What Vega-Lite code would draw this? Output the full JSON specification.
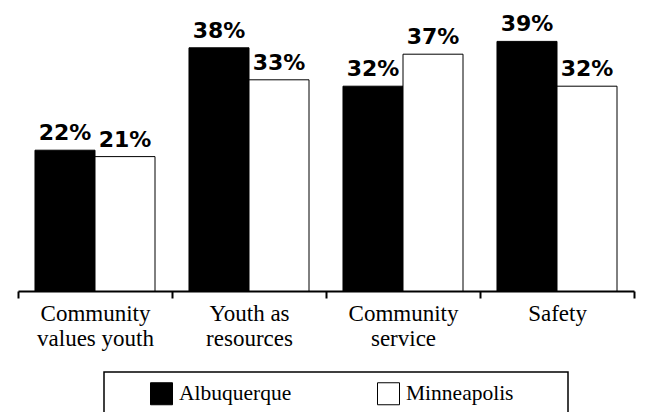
{
  "$schema": "https://vega.github.io/schema/vega-lite/v6.json",
  "autosize": {"type": "none"},
  "width": 616,
  "height": 256,
  "padding": {"left": 18, "top": 35, "right": 11, "bottom": 121},
  "background": "white",
  "data": {
    "values": [
      {"category": "Community values youth", "city": "Albuquerque", "value": 0.22},
      {"category": "Community values youth", "city": "Minneapolis", "value": 0.21},
      {"category": "Youth as resources", "city": "Albuquerque", "value": 0.38},
      {"category": "Youth as resources", "city": "Minneapolis", "value": 0.33},
      {"category": "Community service", "city": "Albuquerque", "value": 0.32},
      {"category": "Community service", "city": "Minneapolis", "value": 0.37},
      {"category": "Safety", "city": "Albuquerque", "value": 0.39},
      {"category": "Safety", "city": "Minneapolis", "value": 0.32}
    ]
  },
  "encoding": {
    "x": {
      "field": "category",
      "type": "nominal",
      "sort": ["Community values youth", "Youth as resources", "Community service", "Safety"],
      "scale": {"paddingInner": 0, "paddingOuter": 0},
      "title": null,
      "axis": {
        "labelExpr": "datum.label == 'Community values youth' ? ['Community', 'values youth'] : datum.label == 'Youth as resources' ? ['Youth as', 'resources'] : datum.label == 'Community service' ? ['Community', 'service'] : datum.label",
        "labelAngle": 0,
        "labelFont": "Liberation Serif, Times New Roman, DejaVu Serif, serif",
        "labelFontSize": 23,
        "labelColor": "black",
        "labelLineHeight": 25,
        "labelPadding": 4,
        "labelLimit": 300,
        "domainColor": "black",
        "domainWidth": 2,
        "tickColor": "black",
        "tickWidth": 2,
        "tickSize": 7,
        "tickBand": "extent",
        "grid": false
      }
    },
    "xOffset": {
      "field": "city",
      "type": "nominal",
      "sort": ["Albuquerque", "Minneapolis"],
      "scale": {"paddingInner": 0, "paddingOuter": 0.283}
    },
    "y": {
      "field": "value",
      "type": "quantitative",
      "scale": {"domain": [0, 0.4]},
      "axis": null
    }
  },
  "layer": [
    {
      "mark": {"type": "bar", "stroke": "black", "strokeWidth": 1},
      "encoding": {
        "fill": {
          "field": "city",
          "type": "nominal",
          "sort": ["Albuquerque", "Minneapolis"],
          "scale": {"range": ["black", "white"]},
          "legend": {
            "orient": "none",
            "legendX": 86,
            "legendY": 337,
            "direction": "horizontal",
            "title": " ",
            "titleOrient": "right",
            "titleFontSize": 2,
            "titlePadding": 45,
            "symbolType": "square",
            "symbolSize": 484,
            "symbolStrokeColor": "black",
            "symbolStrokeWidth": 1,
            "symbolOffset": 36,
            "labelFont": "Liberation Serif, Times New Roman, DejaVu Serif, serif",
            "labelFontSize": 21.5,
            "labelColor": "black",
            "labelOffset": 6,
            "columnPadding": 49,
            "padding": 10,
            "strokeColor": "black",
            "encode": {
              "legend": {"update": {"strokeWidth": {"value": 1.5}}}
            }
          }
        }
      }
    },
    {
      "mark": {
        "type": "text",
        "dy": -10,
        "baseline": "alphabetic",
        "font": "DejaVu Sans",
        "fontWeight": "bold",
        "fontSize": 22,
        "color": "black"
      },
      "encoding": {
        "text": {"field": "value", "type": "quantitative", "format": ".0%"}
      }
    }
  ],
  "config": {
    "view": {"stroke": null}
  }
}
